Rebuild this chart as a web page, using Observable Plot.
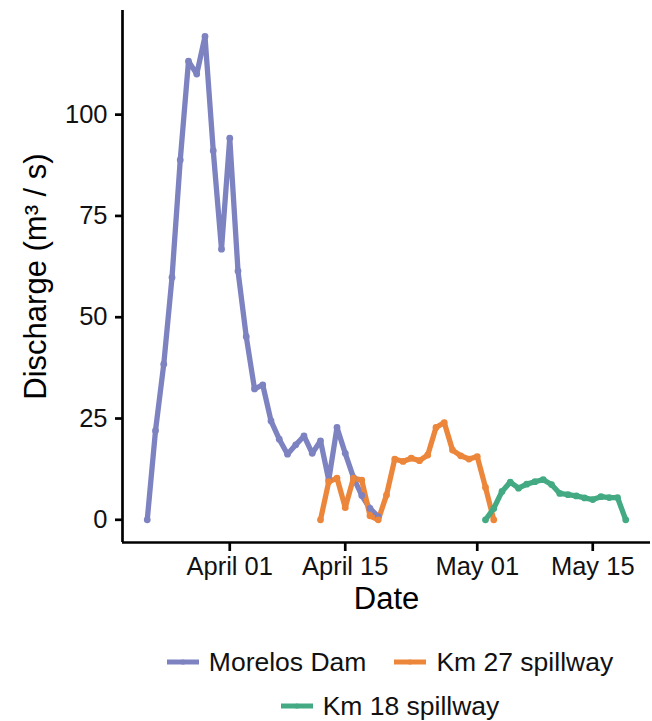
<!DOCTYPE html>
<html>
<head>
<meta charset="utf-8">
<script src="https://cdn.jsdelivr.net/npm/d3@7"></script>
<script src="https://cdn.jsdelivr.net/npm/@observablehq/plot@0.6"></script>
<style>
  html, body { margin: 0; padding: 0; background: #fff; }
  body { font-family: "Liberation Sans", Arial, Helvetica, sans-serif; width: 652px; }
  #legend { margin-top: 10px; margin-left: 128px; width: 524px; color: #111; font-size: 26.5px; }
  .lrow { display: flex; justify-content: center; align-items: center; height: 44px; }
  .litem { display: flex; align-items: center; margin: 0 14px; white-space: nowrap; }
  .litem svg { margin-right: 10px; display: block; }
</style>
</head>
<body>
<div id="chart"></div>
<div id="legend"></div>
<script>
// ---- data ----
const seriesNames = ["Morelos Dam", "Km 27 spillway", "Km 18 spillway"];
const seriesColors = ["#7d82c0", "#ec863a", "#43aa84"];

const morelosDates = ["2019-03-22","2019-03-23","2019-03-24","2019-03-25","2019-03-26","2019-03-27","2019-03-28","2019-03-29","2019-03-30","2019-03-31",
  "2019-04-01","2019-04-02","2019-04-03","2019-04-04","2019-04-05","2019-04-06","2019-04-07","2019-04-08","2019-04-09","2019-04-10",
  "2019-04-11","2019-04-12","2019-04-13","2019-04-14","2019-04-15","2019-04-16","2019-04-17","2019-04-18","2019-04-19"];
const morelosValues = [0, 22, 38.4, 59.8, 88.8, 113.2, 110, 119.3, 91.1, 66.8,
  94.2, 61.4, 45.2, 32.3, 33.3, 24.4, 19.9, 16.2, 18.5, 20.7,
  16.4, 19.5, 9.8, 22.8, 16.4, 10.4, 6.0, 2.8, 0.8];

const km27Dates = ["2019-04-12","2019-04-13","2019-04-14","2019-04-15","2019-04-16","2019-04-17","2019-04-18","2019-04-19","2019-04-20","2019-04-21",
  "2019-04-22","2019-04-23","2019-04-24","2019-04-25","2019-04-26","2019-04-27","2019-04-28","2019-04-29","2019-04-30","2019-05-01",
  "2019-05-02","2019-05-03"];
const km27Values = [0, 9.4, 10.3, 3.0, 10.3, 9.8, 1.0, 0, 6.1, 15.0,
  14.4, 15.2, 14.6, 16.0, 22.8, 24.0, 17.2, 15.8, 15.0, 15.6,
  8.0, 0];

const km18Dates = ["2019-05-02","2019-05-03","2019-05-04","2019-05-05","2019-05-06","2019-05-07","2019-05-08","2019-05-09","2019-05-10","2019-05-11",
  "2019-05-12","2019-05-13","2019-05-14","2019-05-15","2019-05-16","2019-05-17","2019-05-18","2019-05-19"];
const km18Values = [0, 2.8, 7.0, 9.3, 7.8, 8.8, 9.4, 9.9, 8.7, 6.5,
  6.2, 5.9, 5.4, 5.0, 5.7, 5.5, 5.5, 0];

const xDomain = ["2019-03-19", "2019-05-22"];
const xTicks = ["2019-04-01", "2019-04-15", "2019-05-01", "2019-05-15"];
const yDomain = [-5.6, 125.7];
const yTicks = [0, 25, 50, 75, 100];
const xTitle = "Date";
const yTitle = "Discharge (m\u00B3 / s)";

// ---- build table ----
const parse = d3.utcParse("%Y-%m-%d");
const allDates = [morelosDates, km27Dates, km18Dates];
const allValues = [morelosValues, km27Values, km18Values];
const rows = [];
seriesNames.forEach((s, i) => {
  allDates[i].forEach((d, j) => rows.push({series: s, date: parse(d), value: allValues[i][j]}));
});

const fontFamily = "'Liberation Sans', Arial, Helvetica, sans-serif";
const chart = Plot.plot({
  width: 652,
  height: 630,
  marginLeft: 122,
  marginRight: 2,
  marginTop: 10,
  marginBottom: 88,
  style: {fontFamily, fontSize: "25.5px", color: "#111", background: "#fff", overflow: "visible"},
  x: {type: "utc", domain: xDomain.map(parse)},
  y: {domain: yDomain},
  color: {domain: seriesNames, range: seriesColors},
  marks: [
    Plot.line(rows, {x: "date", y: "value", z: "series", stroke: "series", strokeWidth: 5.3,
      strokeLinejoin: "round", strokeLinecap: "round"}),
    Plot.dot(rows, {x: "date", y: "value", fill: "series", r: 3.4}),
    Plot.ruleY([yDomain[0]], {stroke: "#000", strokeWidth: 2.7}),
    Plot.ruleX([parse(xDomain[0])], {stroke: "#000", strokeWidth: 2.7}),
    Plot.axisX({ticks: xTicks.map(parse), tickFormat: d3.utcFormat("%B %d"), tickSize: 9, tickPadding: 5,
      strokeWidth: 2.7, stroke: "#000", label: null}),
    Plot.axisY({ticks: yTicks, tickSize: 7, tickPadding: 8, strokeWidth: 2.7, stroke: "#000", label: null}),
    Plot.text([xTitle], {frameAnchor: "bottom", lineAnchor: "middle", textAnchor: "middle", dy: 57, fontSize: 31, fill: "#000"}),
    Plot.text([yTitle], {frameAnchor: "left", lineAnchor: "middle", textAnchor: "middle", dx: -86, rotate: -90, fontSize: 31, fill: "#000"})
  ]
});
document.getElementById("chart").appendChild(chart);

// ---- legend ----
const legendRows = [[0, 1], [2]];
const legend = document.getElementById("legend");
legendRows.forEach(idxs => {
  const row = document.createElement("div");
  row.className = "lrow";
  idxs.forEach(i => {
    const item = document.createElement("div");
    item.className = "litem";
    item.innerHTML = `<svg width="32" height="12"><line x1="0" x2="32" y1="6" y2="6" stroke="${seriesColors[i]}" stroke-width="5"/><circle cx="16" cy="6" r="2.6" fill="${seriesColors[i]}"/></svg><span>${seriesNames[i]}</span>`;
    row.appendChild(item);
  });
  legend.appendChild(row);
});
</script>
</body>
</html>
